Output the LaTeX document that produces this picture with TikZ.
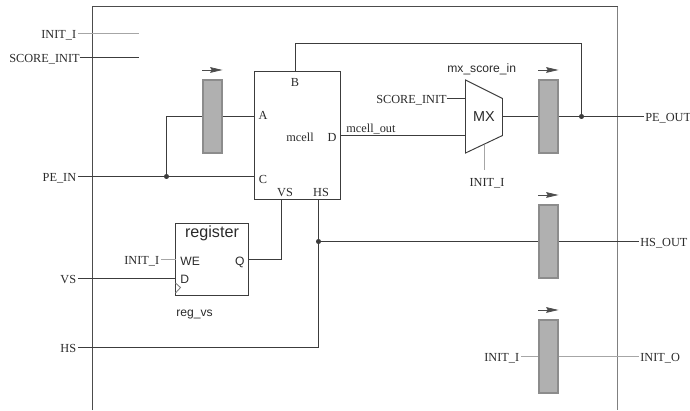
\documentclass[tikz,border=0pt]{standalone}
\usepackage{fontspec}
\setmainfont{Liberation Serif}
\setsansfont{Liberation Sans}
\usetikzlibrary{calc, arrows.meta}

\definecolor{filo}{HTML}{3C3C3C}
\definecolor{testo}{HTML}{2A2A2A}
\definecolor{grigioreg}{HTML}{B0B0B0}
\definecolor{bordoreg}{HTML}{8C8C8C}

\begin{document}
\begin{tikzpicture}[x=0.02cm,y=-0.02cm,
    filo/.style={draw=filo,line width=0.55pt},
    filochiaro/.style={draw=gray!70,line width=0.5pt},
    reg/.style={draw=bordoreg,fill=grigioreg,line width=0.6pt,minimum width=0.38cm,minimum height=1.46cm,inner sep=0},
    blocco/.style={draw=filo,line width=0.55pt,inner sep=0},
    freccia/.style={draw=black!70,line width=0.4pt,-{Stealth[length=7pt,width=3.2pt,inset=0.8pt]}},
    punto/.style={circle,draw=filo,fill=filo,minimum size=2.4pt,inner sep=0},
    etich/.style={text=testo,font=\fontsize{7}{8}\selectfont,inner sep=0.03cm,text height=6.5pt,text depth=0.5pt},
    etichsf/.style={text=testo,font=\sffamily\fontsize{6.9}{8}\selectfont,inner sep=0,text height=6.5pt,text depth=0.5pt}]
    \useasboundingbox (0,0) rectangle (690,410);

    % bordo
    \draw[draw=black!70,line width=0.55pt] (92.5,410) -- (92.5,6.5) -- (617.5,6.5);
    \draw[draw=gray,line width=0.8pt] (617.5,6.5) -- (617.5,410);

    % blocchi
    \node[reg] (regA) at (212.5,116.5) {};
    \node[reg] (regB) at (548.5,116.5) {};
    \node[reg] (regC) at (548.5,241.5) {};
    \node[reg] (regD) at (548.5,356.5) {};
    \node[blocco,minimum width=1.72cm,minimum height=2.56cm] (mcell) at (297.5,135.5) {};
    \node[blocco,minimum width=1.46cm,minimum height=1.44cm] (regvs) at (212,259.5) {};

    % multiplexer
    \coordinate (mxa) at (465.5,80);
    \coordinate (mxb) at (502.5,98.5);
    \coordinate (mxc) at (502.5,135.5);
    \coordinate (mxd) at (465.5,153);
    \coordinate (mxout) at (502.5,116.5);
    \coordinate (mxscore) at (465.5,98.5);
    \coordinate (mxin) at (465.5,135.5);
    \coordinate (mxinit) at (484.5,144.5);
    \draw[filo] (mxa) -- (mxb) -- (mxc) -- (mxd) -- cycle;
    \node[etichsf,font=\sffamily\fontsize{8.2}{9}\selectfont] (mxtxt) at (484,116) {MX};

    % frecce sui registri
    \draw[freccia] ([yshift=0.19cm]regA.north west) -- ([yshift=0.19cm]regA.north east);
    \draw[freccia] ([yshift=0.19cm]regB.north west) -- ([yshift=0.19cm]regB.north east);
    \draw[freccia] ([yshift=0.19cm]regC.north west) -- ([yshift=0.19cm]regC.north east);
    \draw[freccia] ([yshift=0.19cm]regD.north west) -- ([yshift=0.19cm]regD.north east);

    % ingressi
    \node[etich,anchor=east] (initi) at (78,33.5) {INIT\_I};
    \node[etich,anchor=east] (scoreinit) at (81.5,57.5) {SCORE\_INIT};
    \node[etich,anchor=east] (pein) at (78,176.5) {PE\_IN};
    \node[etich,anchor=east] (vs) at (78,278.5) {VS};
    \node[etich,anchor=east] (hs) at (78,347.5) {HS};
    \coordinate (initifine) at (139,33.5);
    \coordinate (scorefine) at (139,57.5);

    % uscite
    \node[etich,anchor=west] (peout) at (643.5,116.5) {PE\_OUT};
    \node[etich,anchor=west] (hsout) at (638.5,241.5) {HS\_OUT};
    \node[etich,anchor=west] (inito) at (638.5,356.5) {INIT\_O};

    % altre etichette
    \node[etich,anchor=east] (initwe) at (161,259.5) {INIT\_I};
    \node[etich,anchor=east] (initd) at (521,356.5) {INIT\_I};
    \node[etich,anchor=east] (scoremx) at (448.5,98.5) {SCORE\_INIT};
    \node[etich,anchor=north] (initmx) at (487,173) {INIT\_I};
    \node[etich,anchor=west] (mcellout) at (344.5,127) {mcell\_out};
    \node[etichsf,anchor=center] (mxscorein) at (481.7,67) {mx\_score\_in};
    \node[etichsf,anchor=west] (regvslab) at (176,311.5) {reg\_vs};

    % porte di mcell
    \node[etich,anchor=center] (porta) at (263,114) {A};
    \node[etich,anchor=center] (portb) at (295,81) {B};
    \node[etich,anchor=center] (portc) at (263,178) {C};
    \node[etich,anchor=center] (portd) at (332,136) {D};
    \node[etich,anchor=center] (portvs) at (285,191) {VS};
    \node[etich,anchor=center] (porths) at (321,191) {HS};
    \node[etich,anchor=center] (mcelltxt) at (300,136) {mcell};

    % porte del registro
    \node[etichsf,font=\sffamily\fontsize{9.2}{10}\selectfont] (regtxt) at (212,232) {register};
    \node[etichsf,anchor=west] (portwe) at (180,260) {WE};
    \node[etichsf,anchor=west] (portda) at (180,278) {D};
    \node[etichsf,anchor=east] (portq) at (245,260) {Q};
    \draw[draw=gray,line width=0.5pt] (175.5,283) -- (180.5,287.5) -- (175.5,293);

    % punti di giunzione
    \node[punto] (nodoin) at (166.5,176.5) {};
    \node[punto] (nodoout) at (581.5,116.5) {};
    \node[punto] (nodohs) at (318.5,241.5) {};
    \coordinate (mcellb) at (295.5,71.5);
    \coordinate (mcellc) at (254.5,176.5);
    \coordinate (mcella) at (254.5,116.5);
    \coordinate (mcellvs) at (281.5,199.5);
    \coordinate (mcellhs) at (318.5,199.5);
    \coordinate (regwe) at (175.5,259.5);
    \coordinate (regd) at (175.5,278.5);

    % fili
    \draw[filochiaro] (initi.east) -- (initifine);
    \draw[filo] ([xshift=-0.04cm]scoreinit.east) -- (scorefine);
    \draw[filo] (pein.east) -- (nodoin) -- (mcellc);
    \draw[filo] (nodoin) |- (regA.west);
    \draw[filo] (regA.east) -- (mcella);
    \draw[filo] (mcellb) |- (581.5,43.5) -- (nodoout);
    \draw[filo] (mcell.east) -- (mxin);
    \draw[filo] ([xshift=-0.04cm]scoremx.east) -- (mxscore);
    \draw[filochiaro] (mxinit) -- (484.5,170);
    \draw[filo] (mxout) -- (regB.west);
    \draw[filo] (regB.east) -- (nodoout) -- (peout.west);
    \draw[filo] (regvs.east) -| (mcellvs);
    \draw[filochiaro] (initwe.east) -- (regwe);
    \draw[filo] (vs.east) -- (regd);
    \draw[filo] (hs.east) -| (nodohs) -- (mcellhs);
    \draw[filo] (nodohs) -- (regC.west);
    \draw[filo] (regC.east) -- (hsout.west);
    \draw[filochiaro] (initd.east) -- (regD.west);
    \draw[filochiaro] (regD.east) -- (inito.west);
\end{tikzpicture}
\end{document}
